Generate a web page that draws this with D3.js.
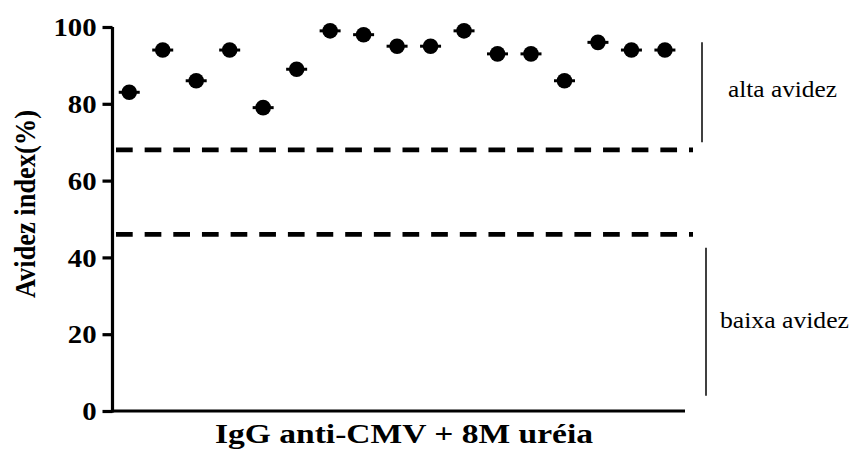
<!DOCTYPE html>
<html>
<head>
<meta charset="utf-8">
<script src="https://cdn.jsdelivr.net/npm/d3@7"></script>
<style>
  html, body { margin: 0; padding: 0; background: #fff; }
  svg { display: block; }
</style>
</head>
<body>
<svg id="chart" width="851" height="452"></svg>
<script>
// ---- data ----
const samples = [1, 2, 3, 4, 5, 6, 7, 8, 9, 10, 11, 12, 13, 14, 15, 16, 17];
const avidity = [83, 94, 86, 94, 79, 89, 99, 98, 95, 95, 99, 93, 93, 86, 96, 94, 94];
const yTicks = [0, 20, 40, 60, 80, 100];
const cutoffs = [68, 46];
const yTitle = "Avidez index(%)";
const xTitle = "IgG anti-CMV + 8M uréia";
const zoneLabels = ["alta avidez", "baixa avidez"];
const zoneRanges = [[70, 96], [4, 42.5]];

const FONT = "'Liberation Serif'";

// ---- layout ----
const svg = d3.select("#chart");
const x = d3.scaleLinear().domain([0.5, 17.6]).range([112.5, 685]);
const y = d3.scaleLinear().domain([0, 100]).range([411, 27]);

// y axis
const yAxis = svg.append("g")
  .attr("transform", "translate(112.5,0)")
  .call(d3.axisLeft(y).tickValues(yTicks).tickSize(10).tickPadding(6).tickFormat(d3.format("d")));
yAxis.attr("font-family", FONT).attr("font-size", 25).attr("font-weight", "bold");
yAxis.select(".domain").attr("stroke", "#000").attr("stroke-width", 3.2)
  .attr("d", `M0,${y(100)}V${y(0) + 1.5}`);
yAxis.selectAll(".tick line").attr("stroke", "#000").attr("stroke-width", 3.2);
yAxis.selectAll(".tick text")
  .attr("fill", "#000")
  .attr("dy", "0.35em")
  .attr("transform", "scale(1.15,1)")
  .attr("x", -16 / 1.15);

// x axis line
svg.append("line")
  .attr("x1", 111).attr("x2", x.range()[1])
  .attr("y1", y(0)).attr("y2", y(0))
  .attr("stroke", "#000").attr("stroke-width", 3.2);

// cutoff dashed lines
svg.selectAll(".cutoff").data(cutoffs).enter().append("line")
  .attr("class", "cutoff")
  .attr("x1", 116).attr("x2", 693)
  .attr("y1", d => y(d)).attr("y2", d => y(d))
  .attr("stroke", "#000").attr("stroke-width", 4.6)
  .attr("stroke-dasharray", "16.7 11.95");

// points with mean bars
const pts = svg.selectAll(".pt").data(samples).enter().append("g").attr("class", "pt");
pts.append("line")
  .attr("x1", d => x(d) - 10.5).attr("x2", d => x(d) + 10.5)
  .attr("y1", (d, i) => y(avidity[i])).attr("y2", (d, i) => y(avidity[i]))
  .attr("stroke", "#000").attr("stroke-width", 3);
pts.append("circle")
  .attr("cx", d => x(d)).attr("cy", (d, i) => y(avidity[i]))
  .attr("r", 7.8).attr("fill", "#000");

// zone brackets and labels
const bracketX = [702, 706];
const labelX = [728, 720];
const labelY = [97, 328];
const labelW = [109, 129];
zoneLabels.forEach((lab, i) => {
  svg.append("line")
    .attr("x1", bracketX[i]).attr("x2", bracketX[i])
    .attr("y1", y(zoneRanges[i][1])).attr("y2", y(zoneRanges[i][0]))
    .attr("stroke", "#000").attr("stroke-width", 1.5);
  svg.append("text")
    .attr("x", labelX[i]).attr("y", labelY[i])
    .attr("textLength", labelW[i]).attr("lengthAdjust", "spacingAndGlyphs")
    .attr("font-family", FONT).attr("font-size", 23.5).attr("fill", "#000")
    .text(lab);
});

// axis titles
svg.append("text")
  .attr("transform", "translate(35,204) rotate(-90)")
  .attr("text-anchor", "middle")
  .attr("textLength", 188).attr("lengthAdjust", "spacingAndGlyphs")
  .attr("font-family", FONT).attr("font-size", 29).attr("font-weight", "bold").attr("fill", "#000")
  .text(yTitle);

svg.append("text")
  .attr("x", 404).attr("y", 443)
  .attr("text-anchor", "middle")
  .attr("textLength", 378).attr("lengthAdjust", "spacingAndGlyphs")
  .attr("font-family", FONT).attr("font-size", 27).attr("font-weight", "bold").attr("fill", "#000")
  .text(xTitle);
</script>
</body>
</html>
